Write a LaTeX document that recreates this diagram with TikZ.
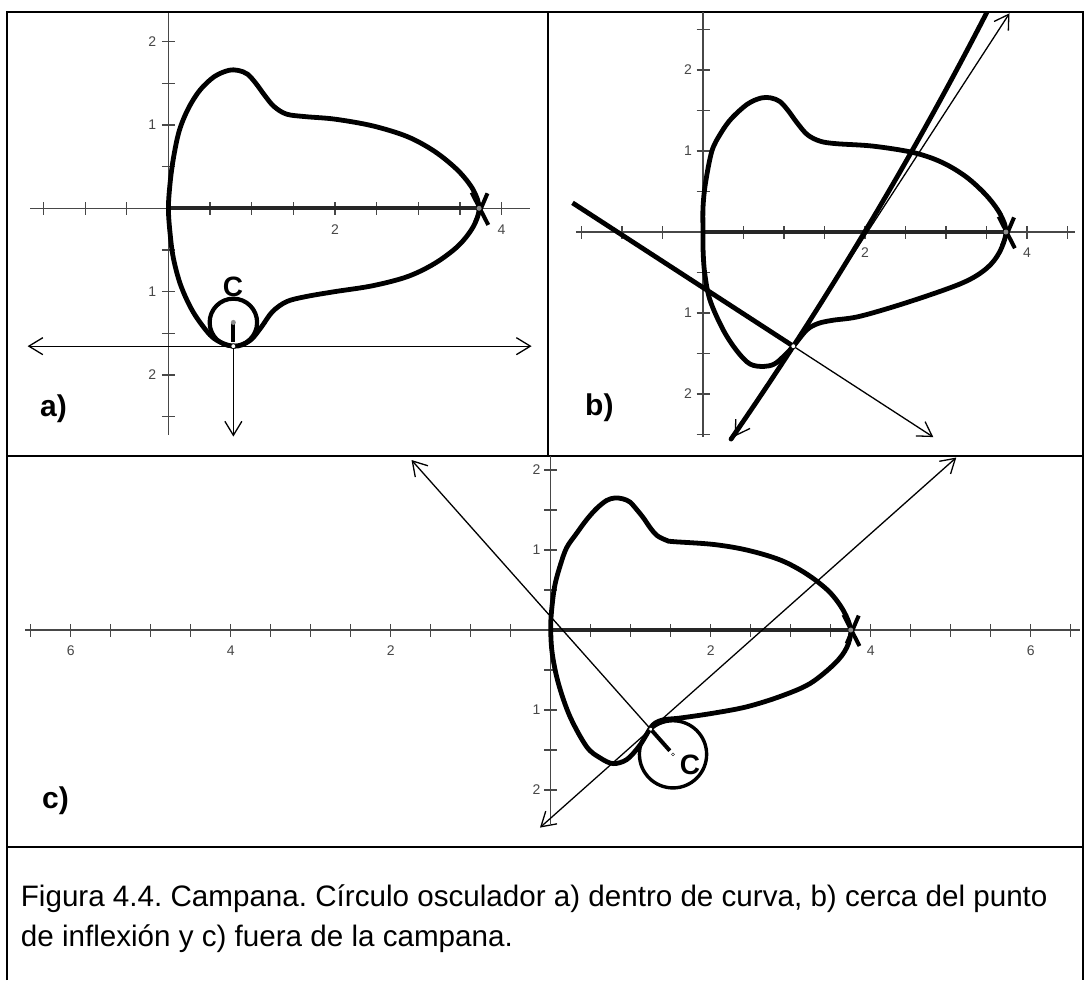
\documentclass[tikz,border=0pt]{standalone}
\usepackage{fontspec}
\setmainfont{Liberation Sans}
\usetikzlibrary{arrows.meta}
\frenchspacing
\tikzset{
  frame/.style={line width=2pt, black},
  axisline/.style={line width=1.4pt, black!72},
  tickmark/.style={line width=1.2pt, black!72},
  curve/.style={line width=4.8pt, line join=round, line cap=round},
  thickaxis/.style={line width=4pt, black!85},
  thinline/.style={line width=1.3pt},
  barbs/.style={{Straight Barb[length=14pt,width=17pt]}-{Straight Barb[length=14pt,width=17pt]}},
  barbend/.style={-{Straight Barb[length=14pt,width=17pt]}},
  ticklabel/.style={font=\fontsize{14}{14}\selectfont, text=black!72, inner sep=0pt},
  panellabel/.style={font=\fontsize{30}{30}\selectfont\bfseries, inner sep=0pt},
  clabel/.style={font=\fontsize{28}{28}\selectfont\bfseries, inner sep=0pt},
  captext/.style={font=\fontsize{29.6}{34}\selectfont, inner sep=0pt, anchor=base west},
  whitedot/.style={circle, fill=white, draw=black, line width=0.7pt, inner sep=0pt, minimum size=5pt},
  greydot/.style={circle, fill=black!45, inner sep=0pt, minimum size=5pt},
}
\begin{document}
\begin{tikzpicture}[x=1pt,y=-1pt]
\useasboundingbox (0,0) rectangle (1089,980);
\fill[white] (0,0) rectangle (1089,980);
% frames
\draw[frame] (7,980) -- (7,12) -- (1083,12) -- (1083,980);
\draw[frame] (548,12) -- (548,456);
\draw[frame] (7,456) -- (1083,456);
\draw[frame] (7,847) -- (1083,847);

% ================= panel a =================
\begin{scope}[shift={(168.4,208.3)}, x=83.3pt, y=83.3pt]
  \draw[axisline] (-1.66,0) -- (4.34,0);
  \draw[axisline] (0,2.34) -- (0,-2.72);
  \foreach \t in {-1.5,-1,-0.5,0.5,1,1.5,2,2.5,3,3.5,4}
    \draw[tickmark] (\t,0) ++(0,-6.5pt) -- ++(0,13pt);
  \foreach \t in {2,1.5,1,0.5,-0.5,-1,-1.5,-2,-2.5}
    \draw[tickmark] (0,\t) ++(-6.5pt,0) -- ++(13pt,0);
  \node[ticklabel, anchor=north] (ax2) at ([yshift=-16pt]2,0) {2};
  \node[ticklabel, anchor=north] (ax4) at ([yshift=-16pt]4,0) {4};
  \node[ticklabel, anchor=east] (ay2) at ([xshift=-12pt]0,2) {2};
  \node[ticklabel, anchor=east] (ay1) at ([xshift=-12pt]0,1) {1};
  \node[ticklabel, anchor=east] (aym1) at ([xshift=-12pt]0,-1) {1};
  \node[ticklabel, anchor=east] (aym2) at ([xshift=-12pt]0,-2) {2};
  \coordinate (Oa) at (0,0);
  \coordinate (Ea) at (3.73,0);
  \draw[thickaxis] (Oa) -- (Ea);
  \draw[curve] plot[smooth cycle, tension=0.55] coordinates {
    (0,0) (0.02,0.3) (0.06,0.6) (0.13,0.93) (0.24,1.2) (0.38,1.42) (0.55,1.58)
    (0.72,1.655) (0.84,1.655) (0.95,1.61) (1.05,1.5) (1.16,1.35) (1.27,1.22)
    (1.42,1.13) (1.65,1.10) (2.0,1.07) (2.45,0.99) (2.87,0.86) (3.2,0.68)
    (3.48,0.45) (3.66,0.22) (3.73,0)
    (3.66,-0.22) (3.48,-0.45) (3.2,-0.66) (2.87,-0.82) (2.45,-0.93) (2.0,-1.0)
    (1.65,-1.06) (1.42,-1.12) (1.25,-1.24) (1.12,-1.42) (1.0,-1.57) (0.88,-1.64)
    (0.78,-1.655) (0.65,-1.62) (0.5,-1.52) (0.3,-1.25) (0.15,-0.93) (0.06,-0.6)
    (0.02,-0.3)};
  \draw[line width=4pt] (Ea) ++(-0.09,0.19) -- ++(0.2,-0.39);
  \draw[line width=4pt] (Ea) ++(0.1,0.18) -- ++(-0.15,-0.35);
  \node[greydot] (ea) at (Ea) {};
  \coordinate (Ca) at (0.78,-1.37);
  \coordinate (Pa) at (0.78,-1.655);
  \coordinate (Qa) at (0.78,-1.6);
  \draw[line width=4.2pt] (Ca) circle[radius=0.285];
  \draw[line width=4pt] (Ca) -- (Qa);
  \coordinate (Ta1) at (-1.69,-1.655);
  \coordinate (Ta2) at (4.36,-1.655);
  \draw[thinline, barbs] (Ta1) -- (Ta2);
  \coordinate (Na) at (0.78,-2.74);
  \draw[thinline, barbend] (Pa) -- (Na);
  \node[whitedot] (pa) at (Pa) {};
  \node[greydot] (ca) at (Ca) {};
  \node[clabel] (labCa) at (0.776,-0.945) {C};
\end{scope}
\node[panellabel, anchor=base west] (la) at (40,416) {a)};

% ================= panel b =================
\begin{scope}
\clip (548,12) rectangle (1083,456);
\begin{scope}[shift={(703,232)}, x=81pt, y=81pt]
  \draw[axisline] (-1.57,0) -- (4.59,0);
  \draw[axisline] (0,2.72) -- (0,-2.53);
  \foreach \t in {-1.5,-1,-0.5,0.5,1,1.5,2,2.5,3,3.5,4,4.5}
    \draw[tickmark] (\t,0) ++(0,-6.5pt) -- ++(0,13pt);
  \foreach \t in {2.5,2,1.5,1,0.5,-0.5,-1,-1.5,-2,-2.5}
    \draw[tickmark] (0,\t) ++(-6.5pt,0) -- ++(13pt,0);
  \node[ticklabel, anchor=north] (bx2) at ([yshift=-16pt]2,0) {2};
  \node[ticklabel, anchor=north] (bx4) at ([yshift=-16pt]4,0) {4};
  \node[ticklabel, anchor=east] (by2) at ([xshift=-11pt]0,2) {2};
  \node[ticklabel, anchor=east] (by1) at ([xshift=-11pt]0,1) {1};
  \node[ticklabel, anchor=east] (bym1) at ([xshift=-11pt]0,-1) {1};
  \node[ticklabel, anchor=east] (bym2) at ([xshift=-11pt]0,-2) {2};
  \coordinate (Ob) at (0,0);
  \coordinate (Eb) at (3.74,0);
  \draw[thickaxis] (Ob) -- (Eb);
  \draw[curve] plot[smooth cycle, tension=0.55] coordinates {
    (0,0) (0.0,0.3) (0.03,0.6) (0.11,1.0) (0.22,1.22) (0.35,1.4) (0.55,1.58)
    (0.72,1.655) (0.84,1.655) (0.95,1.61) (1.05,1.5) (1.16,1.35) (1.29,1.2)
    (1.45,1.12) (1.65,1.09) (2.1,1.06) (2.6,0.98) (2.95,0.86) (3.25,0.68)
    (3.5,0.45) (3.67,0.22) (3.74,0)
    (3.66,-0.25) (3.5,-0.45) (3.2,-0.63) (2.55,-0.86) (1.94,-1.04) (1.6,-1.09)
    (1.42,-1.13) (1.28,-1.21) (1.115,-1.41) (0.99,-1.54) (0.88,-1.63) (0.75,-1.66)
    (0.58,-1.63) (0.42,-1.47) (0.25,-1.21) (0.086,-0.84) (0.02,-0.5) (0,-0.2)};
  \draw[line width=4pt] (Eb) ++(-0.09,0.19) -- ++(0.2,-0.39);
  \draw[line width=4pt] (Eb) ++(0.1,0.18) -- ++(-0.15,-0.35);
  \node[greydot] (eb) at (Eb) {};
  \coordinate (Pb) at (1.115,-1.41);
  \coordinate (Rb) at (-1.611,0.36);
  \coordinate (Nb) at (2.843,-2.532);
  \coordinate (Tb1) at (0.39,-2.526);
  \coordinate (Tb2) at (3.784,2.70);
  \draw[curve] plot[domain=-1.38:5.2, samples=40, variable=\s]
    ({1.115+0.5447*\s-0.8388*\s*\s/94},{-1.41+0.8388*\s+0.5447*\s*\s/94});
  \draw[curve, line cap=butt] (Pb) -- (Rb);
  \draw[thinline, barbend] (Pb) -- (Nb);
  \draw[thinline, barbs] (Tb1) -- (Tb2);
  \node[whitedot] (pb) at (Pb) {};
\end{scope}
\end{scope}
\node[panellabel, anchor=base west] (lb) at (585,415) {b)};

% ================= panel c =================
\begin{scope}
\clip (7,456) rectangle (1083,847);
\begin{scope}[shift={(550.7,630)}, x=80pt, y=80pt]
  \draw[axisline] (-6.57,0) -- (6.62,0);
  \draw[axisline] (0,2.17) -- (0,-2.42);
  \foreach \t in {-6.5,-6,-5.5,-5,-4.5,-4,-3.5,-3,-2.5,-2,-1.5,-1,-0.5,0.5,1,1.5,2,2.5,3,3.5,4,4.5,5,5.5,6,6.5}
    \draw[tickmark] (\t,0) ++(0,-6.5pt) -- ++(0,13pt);
  \foreach \t in {2,1.5,1,0.5,-0.5,-1,-1.5,-2}
    \draw[tickmark] (0,\t) ++(-6.5pt,0) -- ++(13pt,0);
  \node[ticklabel, anchor=north] (cxm6) at ([yshift=-16pt]-6,0) {6};
  \node[ticklabel, anchor=north] (cxm4) at ([yshift=-16pt]-4,0) {4};
  \node[ticklabel, anchor=north] (cxm2) at ([yshift=-16pt]-2,0) {2};
  \node[ticklabel, anchor=north] (cx2) at ([yshift=-16pt]2,0) {2};
  \node[ticklabel, anchor=north] (cx4) at ([yshift=-16pt]4,0) {4};
  \node[ticklabel, anchor=north] (cx6) at ([yshift=-16pt]6,0) {6};
  \node[ticklabel, anchor=east] (cy2) at ([xshift=-10pt]0,2) {2};
  \node[ticklabel, anchor=east] (cy1) at ([xshift=-10pt]0,1) {1};
  \node[ticklabel, anchor=east] (cym1) at ([xshift=-10pt]0,-1) {1};
  \node[ticklabel, anchor=east] (cym2) at ([xshift=-10pt]0,-2) {2};
  \coordinate (Oc) at (0,0);
  \coordinate (Ec) at (3.75,0);
  \draw[thickaxis] (Oc) -- (Ec);
  \draw[curve] plot[smooth cycle, tension=0.55] coordinates {
    (0,0) (0.01,0.23) (0.05,0.55) (0.12,0.81) (0.2,1.03) (0.325,1.21) (0.45,1.38)
    (0.575,1.52) (0.70,1.62) (0.80,1.65) (0.9,1.64) (0.99,1.60) (1.08,1.5)
    (1.16,1.40) (1.25,1.27) (1.33,1.18) (1.45,1.12) (1.53,1.105) (2.03,1.07)
    (2.45,1.0) (2.87,0.875) (3.2,0.7) (3.48,0.48) (3.66,0.24) (3.75,0)
    (3.7,-0.22) (3.55,-0.42) (3.24,-0.67) (2.87,-0.83) (2.45,-0.96) (2.03,-1.04)
    (1.62,-1.1) (1.42,-1.12) (1.31,-1.16) (1.25,-1.22) (1.19,-1.32) (1.1,-1.46)
    (0.95,-1.62) (0.78,-1.67) (0.62,-1.6) (0.45,-1.46) (0.24,-1.08) (0.096,-0.667)
    (0.02,-0.3)};
  \draw[line width=4pt] (Ec) ++(-0.09,0.19) -- ++(0.2,-0.39);
  \draw[line width=4pt] (Ec) ++(0.1,0.18) -- ++(-0.15,-0.35);
  \node[greydot] (ec) at (Ec) {};
  \coordinate (Pc) at (1.25,-1.24);
  \coordinate (Cc) at (1.529,-1.554);
  \coordinate (Qc) at (1.489,-1.509);
  \coordinate (Nc) at (-1.74,2.125);
  \coordinate (Tc1) at (-0.134,-2.47);
  \coordinate (Tc2) at (5.07,2.156);
  \draw[line width=3.4pt] (Cc) circle[radius=0.42];
  \draw[line width=4pt] (Pc) -- (Qc);
  \draw[thinline, barbend] (Pc) -- (Nc);
  \draw[thinline, barbs] (Tc1) -- (Tc2);
  \node[whitedot, minimum size=4pt] (pc) at (Pc) {};
  \node[whitedot, minimum size=3pt, line width=0.4pt] (cc) at (Cc) {};
  \node[clabel] (labCc) at (1.74,-1.69) {C};
\end{scope}
\end{scope}
\node[panellabel, anchor=base west] (lc) at (42,808) {c)};

% ================= caption =================
\node[captext] (cap1) at (20.7,906.5) {Figura 4.4. Campana. Círculo osculador a) dentro de curva, b) cerca del punto};
\node[captext] (cap2) at (20.7,946.5) {de inflexión y c) fuera de la campana.};
\end{tikzpicture}
\end{document}
